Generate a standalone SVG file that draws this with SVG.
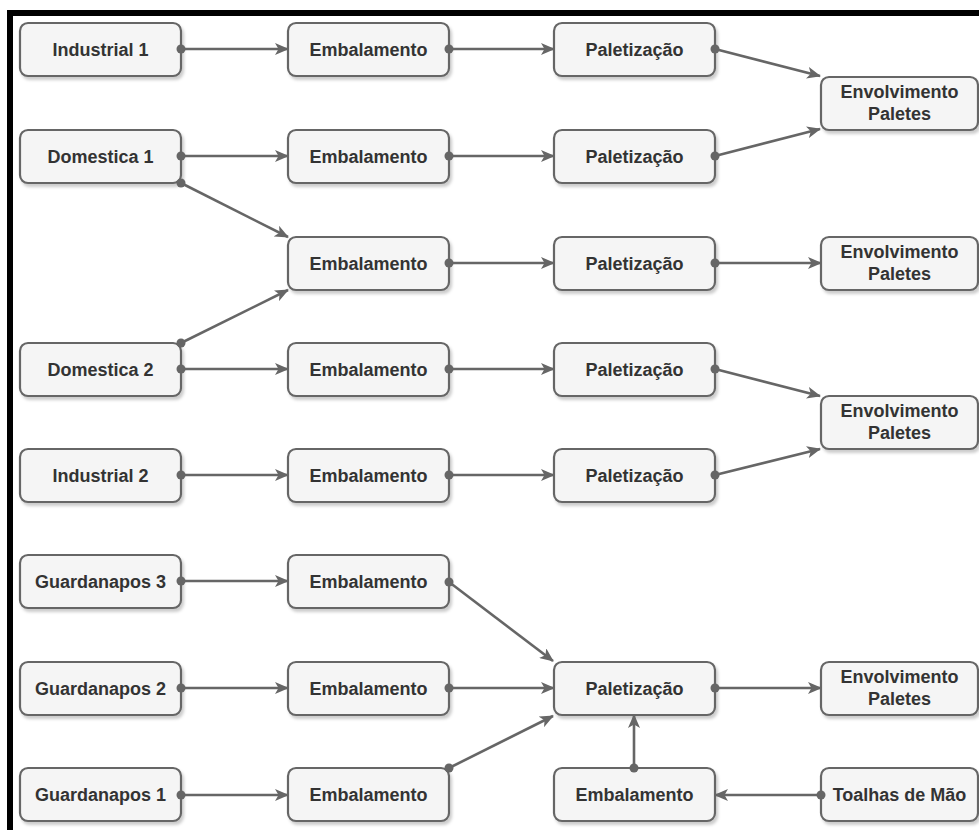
<svg xmlns="http://www.w3.org/2000/svg" width="979" height="830" viewBox="0 0 979 830">
<defs>
<style>
.n rect{fill:#f5f5f5;stroke:#666666;stroke-width:2.2;}
.n text{font-family:"Liberation Sans",Arial,sans-serif;font-weight:bold;font-size:18px;fill:#333333;text-anchor:middle;dominant-baseline:central;}
.e path{fill:none;stroke:#666666;stroke-width:2.6;marker-end:url(#arr);}
.e circle{fill:#666666;}
</style>
<filter id="sh" x="-10%" y="-10%" width="130%" height="140%">
<feDropShadow dx="2" dy="3" stdDeviation="1.5" flood-color="#000" flood-opacity="0.2"/>
</filter>
<marker id="arr" viewBox="0 0 14 12" refX="13" refY="6" markerWidth="14" markerHeight="12" markerUnits="userSpaceOnUse" orient="auto">
<path d="M0,0 L14,6 L0,12 L3.5,6 Z" fill="#666666"/>
</marker>
</defs>
<rect width="979" height="830" fill="#ffffff"/>
<path d="M10,830 L10,13 L979,13" fill="none" stroke="#000" stroke-width="6"/>

<g class="n" id="industrial1"><rect x="20" y="23" width="161" height="53" rx="8" filter="url(#sh)"/><text x="100.5" y="49.5">Industrial 1</text></g>
<g class="n" id="emb1"><rect x="288" y="23" width="161" height="53" rx="8" filter="url(#sh)"/><text x="368.5" y="49.5">Embalamento</text></g>
<g class="n" id="pal1"><rect x="554" y="23" width="161" height="53" rx="8" filter="url(#sh)"/><text x="634.5" y="49.5">Paletização</text></g>
<g class="n" id="env1"><rect x="821" y="77" width="157" height="53" rx="8" filter="url(#sh)"/><text x="899.5" y="92">Envolvimento</text><text x="899.5" y="114">Paletes</text></g>

<g class="n" id="domestica1"><rect x="20" y="130" width="161" height="53" rx="8" filter="url(#sh)"/><text x="100.5" y="156.5">Domestica 1</text></g>
<g class="n" id="emb2"><rect x="288" y="130" width="161" height="53" rx="8" filter="url(#sh)"/><text x="368.5" y="156.5">Embalamento</text></g>
<g class="n" id="pal2"><rect x="554" y="130" width="161" height="53" rx="8" filter="url(#sh)"/><text x="634.5" y="156.5">Paletização</text></g>

<g class="n" id="emb3"><rect x="288" y="237" width="161" height="53" rx="8" filter="url(#sh)"/><text x="368.5" y="263.5">Embalamento</text></g>
<g class="n" id="pal3"><rect x="554" y="237" width="161" height="53" rx="8" filter="url(#sh)"/><text x="634.5" y="263.5">Paletização</text></g>
<g class="n" id="env2"><rect x="821" y="237" width="157" height="53" rx="8" filter="url(#sh)"/><text x="899.5" y="252">Envolvimento</text><text x="899.5" y="274">Paletes</text></g>

<g class="n" id="domestica2"><rect x="20" y="343" width="161" height="53" rx="8" filter="url(#sh)"/><text x="100.5" y="369.5">Domestica 2</text></g>
<g class="n" id="emb4"><rect x="288" y="343" width="161" height="53" rx="8" filter="url(#sh)"/><text x="368.5" y="369.5">Embalamento</text></g>
<g class="n" id="pal4"><rect x="554" y="343" width="161" height="53" rx="8" filter="url(#sh)"/><text x="634.5" y="369.5">Paletização</text></g>
<g class="n" id="env3"><rect x="821" y="396" width="157" height="53" rx="8" filter="url(#sh)"/><text x="899.5" y="411">Envolvimento</text><text x="899.5" y="433">Paletes</text></g>

<g class="n" id="industrial2"><rect x="20" y="449" width="161" height="53" rx="8" filter="url(#sh)"/><text x="100.5" y="475.5">Industrial 2</text></g>
<g class="n" id="emb5"><rect x="288" y="449" width="161" height="53" rx="8" filter="url(#sh)"/><text x="368.5" y="475.5">Embalamento</text></g>
<g class="n" id="pal5"><rect x="554" y="449" width="161" height="53" rx="8" filter="url(#sh)"/><text x="634.5" y="475.5">Paletização</text></g>

<g class="n" id="guard3"><rect x="20" y="555" width="161" height="53" rx="8" filter="url(#sh)"/><text x="100.5" y="581.5">Guardanapos 3</text></g>
<g class="n" id="emb6"><rect x="288" y="555" width="161" height="53" rx="8" filter="url(#sh)"/><text x="368.5" y="581.5">Embalamento</text></g>

<g class="n" id="guard2"><rect x="20" y="662" width="161" height="53" rx="8" filter="url(#sh)"/><text x="100.5" y="688.5">Guardanapos 2</text></g>
<g class="n" id="emb7"><rect x="288" y="662" width="161" height="53" rx="8" filter="url(#sh)"/><text x="368.5" y="688.5">Embalamento</text></g>
<g class="n" id="pal6"><rect x="554" y="662" width="161" height="53" rx="8" filter="url(#sh)"/><text x="634.5" y="688.5">Paletização</text></g>
<g class="n" id="env4"><rect x="821" y="662" width="157" height="53" rx="8" filter="url(#sh)"/><text x="899.5" y="677">Envolvimento</text><text x="899.5" y="699">Paletes</text></g>

<g class="n" id="guard1"><rect x="20" y="768" width="161" height="53" rx="8" filter="url(#sh)"/><text x="100.5" y="795">Guardanapos 1</text></g>
<g class="n" id="emb8"><rect x="288" y="768" width="161" height="53" rx="8" filter="url(#sh)"/><text x="368.5" y="795">Embalamento</text></g>
<g class="n" id="emb9"><rect x="554" y="768" width="161" height="53" rx="8" filter="url(#sh)"/><text x="634.5" y="795">Embalamento</text></g>
<g class="n" id="toalhas"><rect x="821" y="768" width="157" height="53" rx="8" filter="url(#sh)"/><text x="899.5" y="795">Toalhas de Mão</text></g>

<g class="e" id="connectors">
<path d="M181,49 L288,49"/><circle cx="181" cy="49" r="4.5"/>
<path d="M449,49 L554,49"/><circle cx="449" cy="49" r="4.5"/>
<path d="M715,49 L820,76"/><circle cx="715" cy="49" r="4.5"/>
<path d="M181,156 L288,156"/><circle cx="181" cy="156" r="4.5"/>
<path d="M449,156 L554,156"/><circle cx="449" cy="156" r="4.5"/>
<path d="M715,156 L820,129"/><circle cx="715" cy="156" r="4.5"/>
<path d="M181,183 L288,237"/><circle cx="181" cy="183" r="4.5"/>
<path d="M181,343 L288,290"/><circle cx="181" cy="343" r="4.5"/>
<path d="M449,263 L554,263"/><circle cx="449" cy="263" r="4.5"/>
<path d="M715,263 L821,263"/><circle cx="715" cy="263" r="4.5"/>
<path d="M181,369 L288,369"/><circle cx="181" cy="369" r="4.5"/>
<path d="M449,369 L554,369"/><circle cx="449" cy="369" r="4.5"/>
<path d="M715,369 L820,396"/><circle cx="715" cy="369" r="4.5"/>
<path d="M181,475 L288,475"/><circle cx="181" cy="475" r="4.5"/>
<path d="M449,475 L554,475"/><circle cx="449" cy="475" r="4.5"/>
<path d="M715,475 L820,449"/><circle cx="715" cy="475" r="4.5"/>
<path d="M181,581 L288,581"/><circle cx="181" cy="581" r="4.5"/>
<path d="M449,582 L553,661"/><circle cx="449" cy="582" r="4.5"/>
<path d="M181,688 L288,688"/><circle cx="181" cy="688" r="4.5"/>
<path d="M449,688 L554,688"/><circle cx="449" cy="688" r="4.5"/>
<path d="M181,795 L288,795"/><circle cx="181" cy="795" r="4.5"/>
<path d="M449,768 L553,716"/><circle cx="449" cy="768" r="4.5"/>
<path d="M715,688 L821,688"/><circle cx="715" cy="688" r="4.5"/>
<path d="M634,768 L634,715"/><circle cx="634" cy="768" r="4.5"/>
<path d="M821,795 L715,795"/><circle cx="821" cy="795" r="4.5"/>
</g>
</svg>
